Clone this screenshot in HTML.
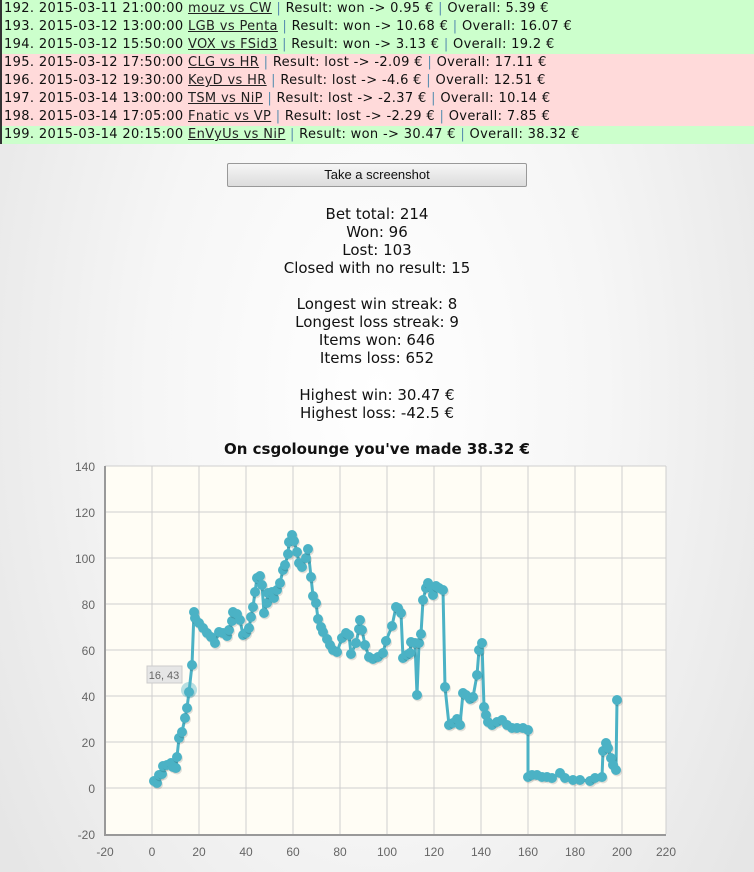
<!DOCTYPE html>
<html><head><meta charset="utf-8"><style>
body{margin:0;width:754px;height:872px;overflow:hidden;font-family:"DejaVu Sans","Liberation Sans",sans-serif;background:radial-gradient(ellipse 60% 90% at 50% 45%,#ffffff 0%,#f6f6f6 50%,#e6e6e6 100%);position:relative;}
.rows{position:absolute;left:0;top:0;width:754px;border-left:2px solid #333;box-sizing:border-box;}
.r{height:18px;line-height:18px;font-size:13px;color:#111;padding-left:2px;white-space:nowrap;letter-spacing:0.35px}
.g{background:#ccffcc}.d{background:#ffdada}
.r u{color:#222}
.s{color:#5a8fb0}
.btn{position:absolute;left:227px;top:163px;width:298px;height:22px;border:1px solid #999;border-radius:2px;background:linear-gradient(#f6f6f6,#dcdcdc);font-size:13px;font-family:"Liberation Sans",sans-serif;text-align:center;line-height:22px;color:#111}
.st{position:absolute;left:0;width:754px;text-align:center;font-size:15px;color:#111;line-height:18px}
.t{position:absolute;left:0;width:754px;text-align:center;font-size:15px;font-weight:bold;top:440px;color:#111}
</style></head><body>
<div class="rows">
<div class="r g">192. 2015-03-11 21:00:00 <u>mouz vs CW</u> <span class="s">|</span> Result: won -&gt; 0.95 € <span class="s">|</span> Overall: 5.39 €</div>
<div class="r g">193. 2015-03-12 13:00:00 <u>LGB vs Penta</u> <span class="s">|</span> Result: won -&gt; 10.68 € <span class="s">|</span> Overall: 16.07 €</div>
<div class="r g">194. 2015-03-12 15:50:00 <u>VOX vs FSid3</u> <span class="s">|</span> Result: won -&gt; 3.13 € <span class="s">|</span> Overall: 19.2 €</div>
<div class="r d">195. 2015-03-12 17:50:00 <u>CLG vs HR</u> <span class="s">|</span> Result: lost -&gt; -2.09 € <span class="s">|</span> Overall: 17.11 €</div>
<div class="r d">196. 2015-03-12 19:30:00 <u>KeyD vs HR</u> <span class="s">|</span> Result: lost -&gt; -4.6 € <span class="s">|</span> Overall: 12.51 €</div>
<div class="r d">197. 2015-03-14 13:00:00 <u>TSM vs NiP</u> <span class="s">|</span> Result: lost -&gt; -2.37 € <span class="s">|</span> Overall: 10.14 €</div>
<div class="r d">198. 2015-03-14 17:05:00 <u>Fnatic vs VP</u> <span class="s">|</span> Result: lost -&gt; -2.29 € <span class="s">|</span> Overall: 7.85 €</div>
<div class="r g">199. 2015-03-14 20:15:00 <u>EnVyUs vs NiP</u> <span class="s">|</span> Result: won -&gt; 30.47 € <span class="s">|</span> Overall: 38.32 €</div>
</div>
<div class="btn">Take a screenshot</div>
<div class="st" style="top:205px">Bet total: 214<br>Won: 96<br>Lost: 103<br>Closed with no result: 15</div>
<div class="st" style="top:295px">Longest win streak: 8<br>Longest loss streak: 9<br>Items won: 646<br>Items loss: 652</div>
<div class="st" style="top:386px">Highest win: 30.47 €<br>Highest loss: -42.5 €</div>
<div class="t">On csgolounge you've made 38.32 €</div>
<svg style="position:absolute;left:0;top:0" width="754" height="872">
<rect x="105" y="466" width="561" height="368" fill="#fffdf5"/>
<g stroke="#cfcfcf" stroke-width="1">
<line x1="105" y1="512" x2="666" y2="512"/><line x1="105" y1="558" x2="666" y2="558"/><line x1="105" y1="604" x2="666" y2="604"/><line x1="105" y1="650" x2="666" y2="650"/><line x1="105" y1="696" x2="666" y2="696"/><line x1="105" y1="742" x2="666" y2="742"/><line x1="105" y1="788" x2="666" y2="788"/><line x1="105" y1="466" x2="666" y2="466"/>
<line x1="152" y1="466" x2="152" y2="834"/><line x1="199" y1="466" x2="199" y2="834"/><line x1="246" y1="466" x2="246" y2="834"/><line x1="293" y1="466" x2="293" y2="834"/><line x1="340" y1="466" x2="340" y2="834"/><line x1="387" y1="466" x2="387" y2="834"/><line x1="434" y1="466" x2="434" y2="834"/><line x1="481" y1="466" x2="481" y2="834"/><line x1="528" y1="466" x2="528" y2="834"/><line x1="575" y1="466" x2="575" y2="834"/><line x1="622" y1="466" x2="622" y2="834"/><line x1="666" y1="466" x2="666" y2="834"/>
</g>
<g stroke="#999" stroke-width="2"><line x1="105" y1="466" x2="105" y2="835"/><line x1="104" y1="835" x2="666" y2="835"/></g>
<g font-size="12" fill="#666" font-family="Liberation Sans,sans-serif" text-anchor="end">
<text x="95" y="471">140</text><text x="95" y="517">120</text><text x="95" y="563">100</text><text x="95" y="609">80</text><text x="95" y="655">60</text><text x="95" y="701">40</text><text x="95" y="747">20</text><text x="95" y="793">0</text><text x="95" y="839">-20</text>
</g>
<g font-size="12" fill="#666" font-family="Liberation Sans,sans-serif" text-anchor="middle">
<text x="105" y="856">-20</text><text x="152" y="856">0</text><text x="199" y="856">20</text><text x="246" y="856">40</text><text x="293" y="856">60</text><text x="340" y="856">80</text><text x="387" y="856">100</text><text x="434" y="856">120</text><text x="481" y="856">140</text><text x="528" y="856">160</text><text x="575" y="856">180</text><text x="622" y="856">200</text><text x="666" y="856">220</text>
</g>
<polyline id="ln" fill="none" stroke="#4bb2c5" stroke-width="3" stroke-linejoin="round" points="154,781 157,783 159,775 162,774 163,766 167,765 171,763 173,767 176,768 177,757 179,738 182,732 185,718 187,708 189,692 192,665 194,612 195,618 199,623 203,628 207,633 211,637 215,643 219,632 223,633 227,636 229,630 232,621 233,612 237,614 240,620 243,635 246,633 249,628 251,617 253,607 255,592 257,578 260,576 262,585 264,613 267,603 268,593 272,592 274,598 277,590 280,583 283,570 285,565 288,554 289,542 292,535 294,541 297,552 299,563 302,567 306,558 308,549 311,577 313,596 316,603 318,619 321,627 323,632 327,639 330,645 333,650 337,652 342,638 346,633 349,635 351,654 356,643 359,629 360,620 362,630 365,645 369,657 373,659 378,657 383,653 386,641 392,626 396,607 398,608 401,613 403,658 407,655 410,653 411,642 415,643 417,695 419,643 421,634 423,600 426,588 428,583 431,587 433,595 436,586 439,588 443,590 445,687 449,725 453,723 457,719 460,725 463,693 466,695 470,699 473,697 477,675 479,650 482,643 484,707 486,715 488,722 492,725 497,722 502,720 507,725 512,728 517,728 523,728 528,730 528,777 532,775 537,775 542,777 547,777 552,778 560,773 565,778 573,780 580,780 590,781 595,778 602,777 603,751 606,743 608,748 611,758 613,765 616,770 617,700"/>
<g id="dots" fill="#4bb2c5"></g>
<circle cx="189" cy="690" r="8" fill="#4bb2c5" opacity="0.4"/>
<rect x="147" y="666" width="35" height="17" fill="#e6e6e6" stroke="#ccc"/>
<text x="164" y="679" font-size="11" fill="#666" text-anchor="middle" font-family="Liberation Sans,sans-serif">16, 43</text>
</svg>
<script>
var p=document.getElementById('ln').getAttribute('points').trim().split(/\s+/),g=document.getElementById('dots'),h='';
p.forEach(function(s){var a=s.split(',');h+='<circle cx="'+(+a[0]+1)+'" cy="'+(+a[1]+1.5)+'" r="5" fill="#000" opacity="0.12"/><circle cx="'+a[0]+'" cy="'+a[1]+'" r="5"/>';});
g.innerHTML=h;
</script>
</body></html>
